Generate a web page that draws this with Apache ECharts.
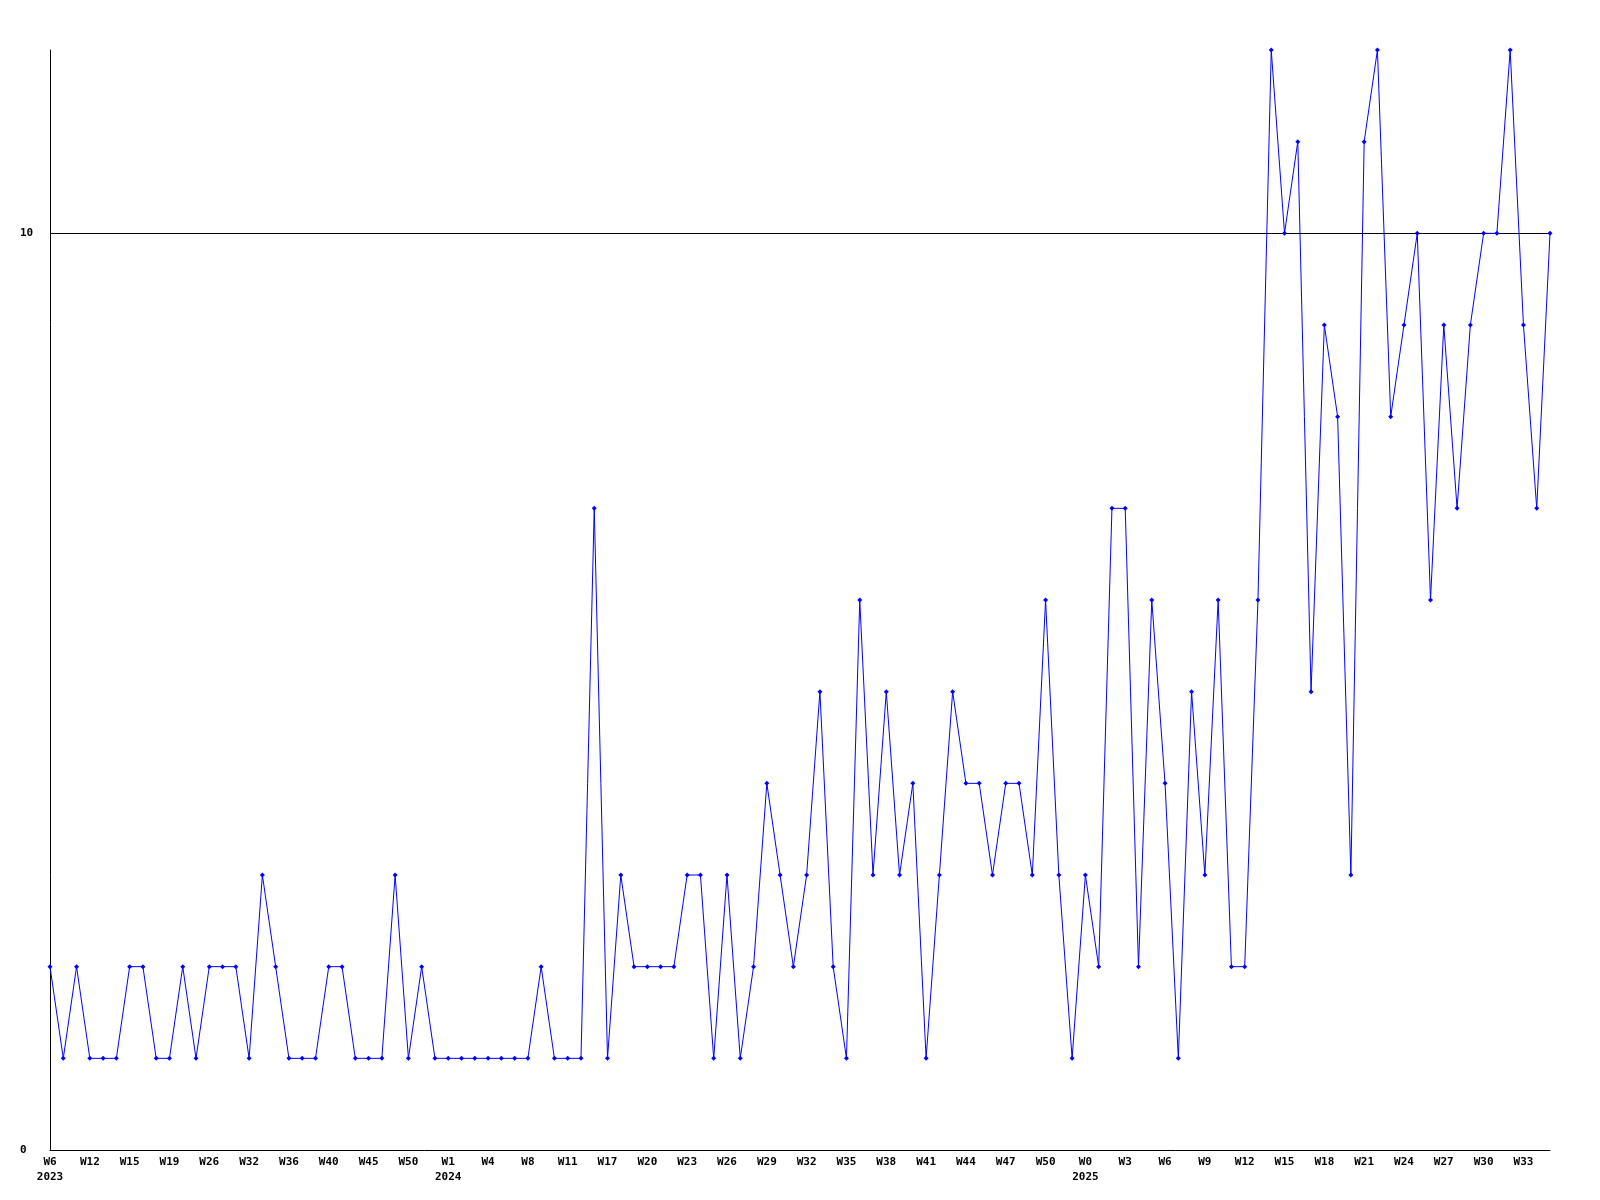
<!DOCTYPE html>
<html>
<head>
<meta charset="utf-8">
<script src="https://cdn.jsdelivr.net/npm/echarts@6/dist/echarts.min.js"></script>
<style>html,body{margin:0;padding:0;background:#fff;}#chart{width:1600px;height:1200px;}</style>
</head>
<body>
<div id="chart"></div>
<script>
const categories = [
  '2023 W6','2023 W8','2023 W10','2023 W12','2023 W13','2023 W14','2023 W15','2023 W17','2023 W18','2023 W19',
  '2023 W21','2023 W24','2023 W26','2023 W28','2023 W30','2023 W32','2023 W33','2023 W34','2023 W36','2023 W37',
  '2023 W38','2023 W40','2023 W42','2023 W43','2023 W45','2023 W46','2023 W48','2023 W50','2023 W51','2023 W52',
  '2024 W1','2024 W2','2024 W3','2024 W4','2024 W6','2024 W7','2024 W8','2024 W9','2024 W10','2024 W11',
  '2024 W13','2024 W15','2024 W17','2024 W18','2024 W19','2024 W20','2024 W21','2024 W22','2024 W23','2024 W24',
  '2024 W25','2024 W26','2024 W27','2024 W28','2024 W29','2024 W30','2024 W31','2024 W32','2024 W33','2024 W34',
  '2024 W35','2024 W36','2024 W37','2024 W38','2024 W39','2024 W40','2024 W41','2024 W42','2024 W43','2024 W44',
  '2024 W45','2024 W46','2024 W47','2024 W48','2024 W49','2024 W50','2024 W51','2024 W52',
  '2025 W0','2025 W1','2025 W2','2025 W3','2025 W4','2025 W5','2025 W6','2025 W7','2025 W8','2025 W9',
  '2025 W10','2025 W11','2025 W12','2025 W13','2025 W14','2025 W15','2025 W16','2025 W17','2025 W18','2025 W19',
  '2025 W20','2025 W21','2025 W22','2025 W23','2025 W24','2025 W25','2025 W26','2025 W27','2025 W28','2025 W29',
  '2025 W30','2025 W31','2025 W32','2025 W33','2025 W34','2025 W35'
];
const values = [
  2,1,2,1,1,1,2,2,1,1,
  2,1,2,2,2,1,3,2,1,1,
  1,2,2,1,1,1,3,1,2,1,
  1,1,1,1,1,1,1,2,1,1,
  1,7,1,3,2,2,2,2,3,3,
  1,3,1,2,4,3,2,3,5,2,
  1,6,3,5,3,4,1,3,5,4,
  4,3,4,4,3,6,3,1,3,2,
  7,7,2,6,4,1,5,3,6,2,
  2,6,12,10,11,5,9,8,3,11,
  12,8,9,10,6,9,7,9,10,10,
  12,9,7,10
];
const yMin = 0, yMax = 12, yStep = 10;

const font = 'DejaVu Sans Mono';
const chart = echarts.init(document.getElementById('chart'), null, {renderer: 'canvas'});
chart.setOption({
  backgroundColor: '#fff',
  animation: false,
  grid: {left: 50, right: 50, top: 50, bottom: 50, containLabel: false},
  xAxis: {
    type: 'category',
    data: categories,
    boundaryGap: false,
    axisLine: {show: true, lineStyle: {color: '#000', width: 1}},
    axisTick: {show: false},
    splitLine: {show: false},
    axisLabel: {
      interval: 2,
      margin: 5,
      color: '#000',
      fontFamily: font,
      fontWeight: 'bold',
      fontSize: 11,
      lineHeight: 15,
      formatter: function (value, index) {
        const parts = value.split(' ');
        const prev = index > 0 ? categories[index - 1].split(' ')[0] : null;
        if (prev !== parts[0]) return parts[1] + '\n' + parts[0];
        return parts[1];
      }
    }
  },
  yAxis: {
    type: 'value',
    min: yMin,
    max: yMax,
    interval: yStep,
    axisLine: {show: true, lineStyle: {color: '#000', width: 1}},
    axisTick: {show: false},
    splitLine: {show: true, lineStyle: {color: ['rgba(0,0,0,0)', '#000', 'rgba(0,0,0,0)'], width: 1}},
    axisLabel: {
      showMaxLabel: false,
      align: 'left',
      margin: 30,
      color: '#000',
      fontFamily: font,
      fontWeight: 'bold',
      fontSize: 11,
      formatter: function (v) { return v === yMax ? '' : String(v); }
    }
  },
  series: [{
    type: 'line',
    data: values,
    symbol: 'diamond',
    symbolSize: 5,
    showAllSymbol: true,
    lineStyle: {color: '#0000ff', width: 1},
    itemStyle: {color: '#0000ff'},
    emphasis: {disabled: true}
  }]
});
</script>
</body>
</html>
